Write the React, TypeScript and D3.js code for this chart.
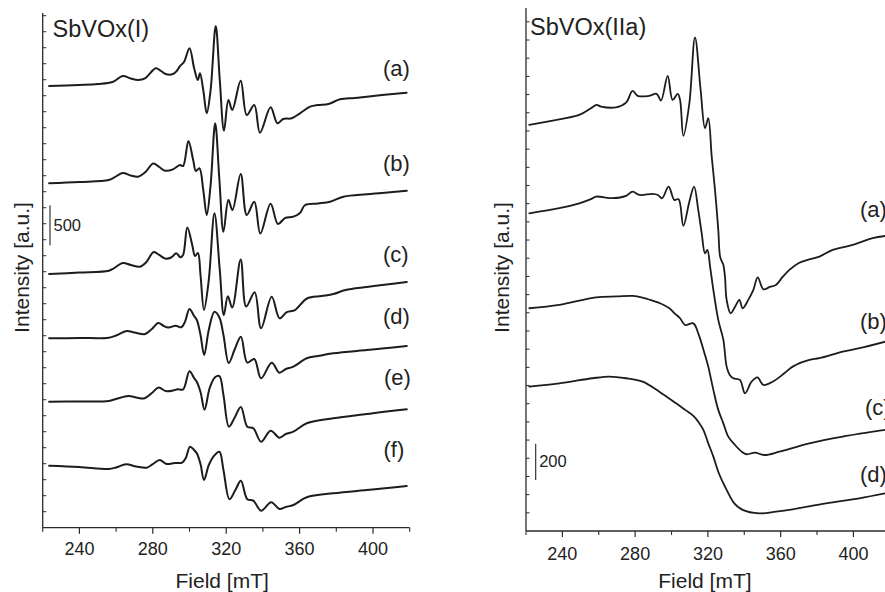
import React from 'react';
import * as d3 from 'd3';

const FONT = '"Liberation Sans", Arial, Helvetica, sans-serif';

// Field axis (mT)
const FIELD_DOMAIN: [number, number] = [220, 420];
const FIELD_MAJOR = [240, 280, 320, 360, 400];
const FIELD_MINOR = [220, 260, 300, 340, 380, 420];

// ---------- SbVOx(I) spectra: [field mT, intensity a.u.] ----------
const leftA: [number, number][] = [
  [223.5, 5521], [240, 5534], [250, 5546], [258, 5571], [263.6, 5646], [268, 5615], [272, 5596], [276, 5621],
  [281.6, 5743], [284.5, 5709], [287, 5671], [291, 5671], [293, 5709], [294.8, 5771], [297, 5821], [300, 5993],
  [302.5, 5746], [304.5, 5596], [305.7, 5680], [307.5, 5471], [309.4, 5180], [311.5, 5471], [314.3, 6271],
  [316.5, 5596], [318.8, 4963], [321.2, 5346], [323.3, 5221], [327.9, 5588], [331.2, 5159], [335.3, 5284],
  [338.4, 4938], [344.2, 5255], [347.9, 5055], [351, 5109], [355.7, 5118], [360.2, 5180], [365.7, 5263],
  [370, 5284], [375.7, 5296], [382, 5355], [390, 5371], [396.6, 5388], [405, 5409], [418.3, 5438],
];
const leftB: [number, number][] = [
  [223.5, 4305], [240, 4321], [256, 4346], [259, 4378], [263.6, 4434], [268, 4403], [272, 4388], [276, 4446],
  [280.2, 4553], [283.5, 4509], [286.7, 4463], [291, 4480], [294.8, 4534], [296.5, 4521], [299.4, 4834],
  [302, 4596], [303.5, 4459], [305.4, 4493], [307.5, 4221], [309.4, 3909], [311.5, 4284], [314, 5055],
  [316.3, 4346], [318.5, 3700], [321.2, 4096], [323.4, 3971], [327.9, 4421], [331.2, 3909], [335.3, 4075],
  [338.6, 3678], [344.2, 4050], [348.2, 3796], [352, 3871], [356.6, 3888], [360.2, 3934], [363, 4034],
  [370, 4053], [376.6, 4075], [383.9, 4138], [396.6, 4168], [405, 4184], [418.4, 4213],
];
const leftC: [number, number][] = [
  [223.5, 3171], [240, 3190], [256, 3213], [259, 3246], [263.6, 3309], [268, 3284], [273, 3263], [276.5, 3321],
  [280.5, 3446], [283.5, 3409], [286.7, 3365], [290, 3378], [292.8, 3430], [295, 3380], [296.5, 3409],
  [298.8, 3753], [301.5, 3534], [303, 3396], [304.6, 3434], [306, 3159], [307.9, 2721], [310.5, 3096],
  [313.6, 3930], [316.5, 3221], [318.7, 2659], [320.9, 2893], [323.3, 2753], [327.9, 3353], [330.9, 2765],
  [335.5, 2944], [339, 2493], [344.8, 2888], [349.1, 2618], [353, 2696], [357.5, 2721], [364, 2865],
  [372, 2896], [378.4, 2921], [385, 2971], [396.6, 3009], [405, 3034], [418.4, 3071],
];
const leftD: [number, number][] = [
  [223.5, 2368], [240, 2371], [256, 2375], [260, 2403], [265.8, 2459], [270, 2440], [275.8, 2421], [279.5, 2484],
  [283, 2559], [286, 2521], [288.5, 2503], [292.5, 2525], [295.5, 2505], [297.5, 2571], [300, 2734],
  [302.5, 2646], [304, 2596], [306, 2409], [308, 2159], [310.5, 2471], [313.6, 2700], [316.3, 2628],
  [318.5, 2409], [321.4, 2059], [324.5, 2221], [328, 2388], [331.5, 2063], [335.3, 2109], [339, 1868],
  [344.8, 2063], [349, 1938], [352.5, 1984], [356.6, 2013], [363.9, 2118], [370, 2146], [378.4, 2180],
  [396.6, 2221], [405, 2240], [418.4, 2271],
];
const leftE: [number, number][] = [
  [223.5, 1575], [240, 1578], [256, 1584], [260, 1609], [266.7, 1646], [271, 1628], [275.5, 1618], [279.5, 1684],
  [283.2, 1753], [287, 1709], [291, 1715], [293.5, 1730], [296.5, 1728], [300, 1955], [302.5, 1871],
  [304, 1821], [306, 1696], [308.2, 1475], [311, 1746], [313.9, 1880], [316.3, 1896], [318.5, 1659],
  [321.5, 1263], [324.5, 1371], [328, 1509], [331.5, 1263], [334.8, 1243], [339, 1075], [344.2, 1213],
  [349, 1125], [352.5, 1171], [356.6, 1200], [363.9, 1305], [378.4, 1368], [396.6, 1421], [405, 1446],
  [418.4, 1480],
];
const leftF: [number, number][] = [
  [223.5, 775], [240, 759], [256, 734], [260, 753], [265.4, 793], [271, 765], [276.7, 750], [280, 796],
  [283.8, 846], [287.5, 796], [292, 809], [296, 813], [298, 871], [300.3, 1013], [302.5, 971], [304, 930],
  [306, 796], [307.9, 596], [310.5, 784], [313, 888], [316.3, 950], [318.5, 721], [321.8, 355], [325, 471],
  [328, 588], [331.5, 355], [334.8, 338], [339, 213], [344.5, 318], [349, 234], [352.5, 259], [356.6, 284],
  [363.9, 380], [378.4, 430], [396.6, 471], [405, 490], [418.4, 521],
];
const leftLabels = ['(a)', '(b)', '(c)', '(d)', '(e)', '(f)'];

// ---------- SbVOx(IIa) spectra ----------
const rightA: [number, number][] = [
  [221.8, 2233], [238.3, 2264], [249.3, 2288], [255.7, 2325], [258.8, 2343], [261.2, 2334], [269.5, 2330],
  [275, 2356], [278.6, 2420], [281.4, 2393], [287.8, 2393], [291.8, 2404], [294.2, 2367], [297.9, 2503],
  [300.6, 2371], [303.4, 2404], [304.7, 2371], [306.5, 2173], [309.8, 2352], [312.9, 2715], [316, 2426],
  [318.4, 2215], [320.2, 2270], [322.1, 2059], [323.9, 1876], [325.7, 1656], [326.7, 1509], [327.8, 1480],
  [328.5, 1463], [329.4, 1397], [330.3, 1271], [332.5, 1197], [335, 1234], [337.3, 1271], [339.1, 1225],
  [342.2, 1271], [345, 1326], [347.4, 1395], [350.5, 1329], [354, 1342], [357.4, 1353], [361.1, 1397],
  [364.8, 1436], [370, 1474], [375.8, 1494], [381.3, 1509], [388.6, 1546], [399.6, 1573], [410.6, 1610],
  [418, 1623],
];
const rightB: [number, number][] = [
  [221.8, 1747], [238.3, 1775], [249.3, 1802], [256, 1826], [258.5, 1839], [267.6, 1830], [275, 1843],
  [278.6, 1866], [282.3, 1848], [289.6, 1854], [292.5, 1848], [294.8, 1830], [298.4, 1894], [301.5, 1821],
  [303.9, 1824], [306.5, 1678], [309.8, 1811], [312.4, 1894], [314.7, 1766], [316.6, 1637], [318.4, 1527],
  [319.7, 1546], [321.2, 1454], [323, 1326], [325.7, 1161], [328.5, 1051], [330.3, 904], [332, 858],
  [334, 840], [337.6, 831], [340.4, 757], [344, 821], [347.2, 845], [350.5, 803], [355.6, 821], [362, 867],
  [366.6, 904], [375.8, 941], [381.3, 950], [394.1, 986], [403.3, 1005], [417.5, 1041],
];
const rightC: [number, number][] = [
  [221.8, 1225], [238.3, 1243], [258.5, 1285], [270, 1290], [278.6, 1293], [284, 1284], [289.6, 1267],
  [294, 1251], [298.8, 1225], [302, 1194], [304.7, 1170], [307.4, 1133], [312, 1142], [314.7, 1087],
  [318.4, 968], [320.2, 904], [323, 776], [325.7, 666], [328.5, 592], [331.2, 519], [334.9, 473],
  [338.6, 436], [341.3, 422], [345.9, 431], [351, 418], [359.3, 436], [375.8, 482], [394.1, 519],
  [417.5, 556],
];
const rightD: [number, number][] = [
  [221.8, 794], [238.3, 812], [256.6, 840], [265.8, 849], [275, 840], [284.1, 821], [293.3, 766],
  [302.5, 702], [307.5, 666], [312, 633], [314.7, 601], [317.5, 556], [320.2, 482], [323, 409],
  [325.7, 326], [328.5, 262], [330.3, 226], [334.5, 152], [339.1, 116], [348.3, 97], [357.4, 106],
  [366.6, 119], [384.9, 152], [403.2, 180], [417.5, 207],
];
const rightLabels = ['(a)', '(b)', '(c)', '(d)'];

// y-axis tick steps and scale bars (a.u.)
const LEFT_Y_MAX = 6434;
const LEFT_TICK_STEP = 200;
const LEFT_BAR = { from: 3530, length: 500, label: '500' };
const RIGHT_Y_MAX = 2876;
const RIGHT_TICK_STEP = 100;
const RIGHT_BAR = { from: 280, length: 200, label: '200' };

type PanelProps = {
  x0: number; x1: number; yTop: number; yBottom: number; yMax: number; tickStep: number;
  series: [number, number][][]; labels: string[]; labelPos: [number, number][];
  title: string; titlePos: [number, number];
  bar: { from: number; length: number; label: string }; barX: number; barLabelY: number;
  yTitleX: number; tickLabelY: number; strokeW: number;
};

function Panel(p: PanelProps) {
  const x = d3.scaleLinear().domain(FIELD_DOMAIN).range([p.x0, p.x1]);
  const y = d3.scaleLinear().domain([0, p.yMax]).range([p.yBottom, p.yTop]);
  const line = d3.line<[number, number]>()
    .x((d) => x(d[0]))
    .y((d) => y(d[1]))
    .curve(d3.curveCatmullRom.alpha(0.5));
  const yTicks = d3.range(p.tickStep, p.yMax + 1, p.tickStep);
  const axisColor = '#2a2a2a';
  return (
    <g>
      {p.series.map((s, i) => (
        <path key={i} d={line(s) || ''} fill="none" stroke="#1c1c1c" strokeWidth={p.strokeW}
          strokeLinejoin="round" strokeLinecap="round" />
      ))}
      {/* axes */}
      <line x1={p.x0} x2={p.x0} y1={p.yTop} y2={p.yBottom} stroke={axisColor} strokeWidth={1.3} />
      <line x1={p.x0} x2={p.x1} y1={p.yBottom} y2={p.yBottom} stroke={axisColor} strokeWidth={1.3} />
      {yTicks.map((t) => (
        <line key={t} x1={p.x0} x2={p.x0 + 3.5} y1={y(t)} y2={y(t)} stroke={axisColor} strokeWidth={1} />
      ))}
      {FIELD_MAJOR.map((t) => (
        <g key={t}>
          <line x1={x(t)} x2={x(t)} y1={p.yBottom} y2={p.yBottom + 6} stroke={axisColor} strokeWidth={1.2} />
          <text x={x(t)} y={p.tickLabelY} textAnchor="middle" fontSize={18} fontFamily={FONT} fill="#222">{t}</text>
        </g>
      ))}
      {FIELD_MINOR.map((t) => (
        <line key={t} x1={x(t)} x2={x(t)} y1={p.yBottom} y2={p.yBottom + 4} stroke={axisColor} strokeWidth={1.1} />
      ))}
      <text x={(p.x0 + x(420)) / 2 + (p.x0 < 100 ? -4 : -3)} y={588} textAnchor="middle" fontSize={21}
        fontFamily={FONT} fill="#222">Field [mT]</text>
      <text transform={`translate(${p.yTitleX},267.5) rotate(-90)`} textAnchor="middle" fontSize={21}
        fontFamily={FONT} fill="#222">Intensity [a.u.]</text>
      <text x={p.titlePos[0]} y={p.titlePos[1]} fontSize={23.5} fontFamily={FONT} fill="#222">{p.title}</text>
      {p.labels.map((l, i) => (
        <text key={l} x={p.labelPos[i][0]} y={p.labelPos[i][1]} fontSize={22} fontFamily={FONT} fill="#222">{l}</text>
      ))}
      {/* scale bar */}
      <line x1={p.barX} x2={p.barX} y1={y(p.bar.from)} y2={y(p.bar.from + p.bar.length)} stroke="#222" strokeWidth={1.1} />
      <text x={p.barX + 3.5} y={p.barLabelY} fontSize={16.5} fontFamily={FONT} fill="#222">{p.bar.label}</text>
    </g>
  );
}

export default function App() {
  return (
    <svg width={885} height={592} viewBox="0 0 885 592"
      style={{ position: 'absolute', left: 0, top: 0, background: '#fff' }}>
      <rect x={0} y={0} width={885} height={592} fill="#fff" />
      <Panel
        x0={42.7} x1={409.7} yTop={13} yBottom={527.7} yMax={LEFT_Y_MAX} tickStep={LEFT_TICK_STEP}
        series={[leftA, leftB, leftC, leftD, leftE, leftF]} labels={leftLabels}
        labelPos={[[383, 76], [383, 170.5], [383, 262], [383, 323.7], [384, 385], [383.5, 456.5]]}
        title="SbVOx(I)" titlePos={[52.5, 36.7]}
        bar={LEFT_BAR} barX={50} barLabelY={231}
        yTitleX={28.5} tickLabelY={555} strokeW={2}
      />
      <Panel
        x0={526} x1={889.8} yTop={8} yBottom={531} yMax={RIGHT_Y_MAX} tickStep={RIGHT_TICK_STEP}
        series={[rightA, rightB, rightC, rightD]} labels={rightLabels}
        labelPos={[[860, 217], [860, 329], [865, 415], [860, 482]]}
        title="SbVOx(IIa)" titlePos={[530, 34.5]}
        bar={RIGHT_BAR} barX={535.7} barLabelY={466.7}
        yTitleX={509} tickLabelY={559.5} strokeW={1.8}
      />
    </svg>
  );
}
